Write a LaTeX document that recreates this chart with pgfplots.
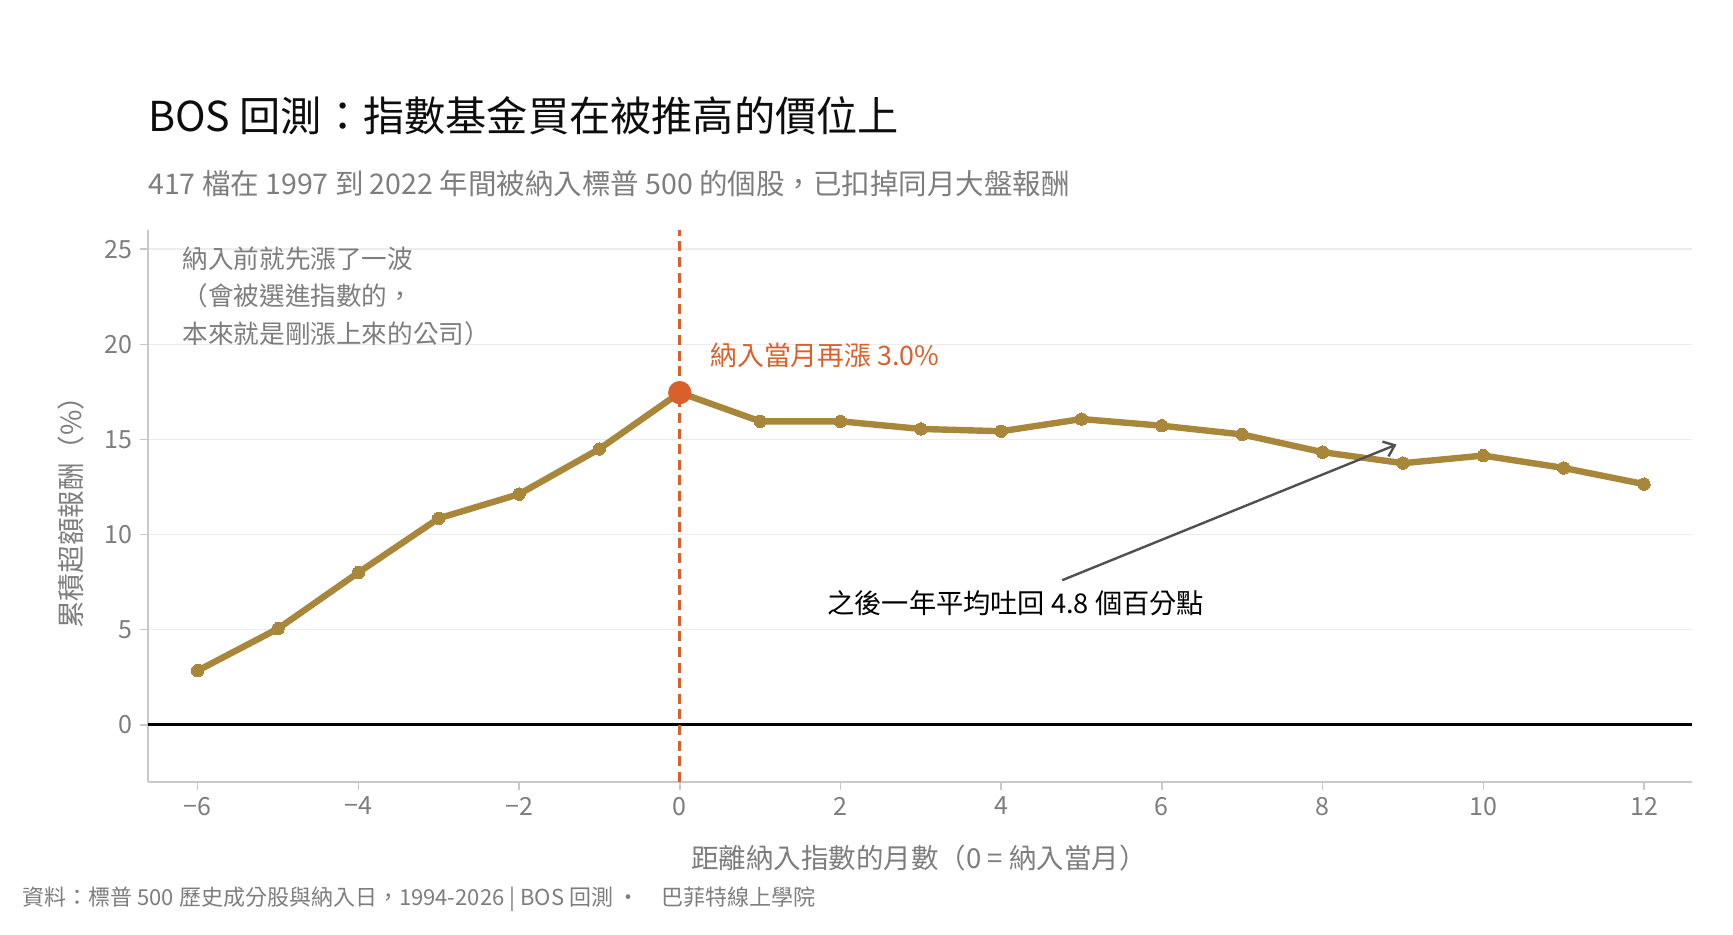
\documentclass[border=0pt]{standalone}
\usepackage{fontspec}
\setmainfont{Noto Sans CJK TC}
\usepackage{pgfplots}
\pgfplotsset{compat=1.18}
\usetikzlibrary{arrows.meta}
\definecolor{gold}{RGB}{168,134,58}
\definecolor{hot}{RGB}{217,95,43}
\definecolor{txtgray}{RGB}{125,125,125}
\definecolor{gridgray}{RGB}{236,236,236}
\definecolor{axgray}{RGB}{200,200,200}
\definecolor{arrgray}{RGB}{80,80,80}
\pgfplotstableread{
m r
-6 2.84
-5 5.05
-4 8.0
-3 10.85
-2 12.12
-1 14.5
0 17.46
1 15.95
2 15.95
3 15.55
4 15.43
5 16.07
6 15.72
7 15.26
8 14.33
9 13.75
10 14.15
11 13.5
12 12.65
}\datatable
\begin{document}
\begin{tikzpicture}
\useasboundingbox (0,0) rectangle (866.5pt,467.5pt);
\begin{axis}[
  at={(73.9pt,76.6pt)}, anchor=south west,
  scale only axis, width=772.2pt, height=275.8pt,
  xmin=-6.62, xmax=12.6, ymin=-3, ymax=26,
  xtick={-6,-4,-2,0,2,4,6,8,10,12},
  xticklabels={−6,−4,−2,0,2,4,6,8,10,12},
  ytick={0,5,10,15,20,25},
  yticklabels={0,5,10,15,20,25},
  axis x line*=bottom, axis y line*=left,
  axis line style={axgray, line width=1pt},
  ymajorgrids, grid style={gridgray, line width=0.8pt},
  tick align=outside, major tick length=4pt,
  tick style={axgray, line width=0.8pt},
  ticklabel style={font=\fontsize{12.5}{14}\selectfont, text=txtgray},
  clip=false,
]
\addplot[black, line width=1.3pt, forget plot] coordinates {(-6.62,0) (12.6,0)};
\addplot[hot, line width=1.3pt, dash pattern=on 5pt off 2.8pt, forget plot] coordinates {(0,-3) (0,26)};
\addplot[gold, line width=3.2pt, mark=*, mark size=3.1pt, mark options={fill=gold, draw=gold, line width=0pt}] table[x=m,y=r] {\datatable};
\addplot[only marks, mark=*, mark size=5.6pt, mark options={fill=hot, draw=hot}] coordinates {(0,17.46)};
\draw[arrgray, line width=1.2pt, -{Straight Barb[length=5pt,width=8pt]}] (axis cs:4.76,7.6) -- (axis cs:8.92,14.73);
\end{axis}
\begin{scope}[x=0.5556pt, y=-0.5556pt, shift={(0,467.5pt)}]
\node[anchor=base west, inner sep=0pt, text=black!95, font=\fontsize{20.6}{24}\selectfont] at (133,118) {BOS 回測：指數基金買在被推高的價位上};
\node[anchor=base west, inner sep=0pt, text=txtgray, font=\fontsize{14.25}{17}\selectfont] at (133,175) {417 檔在 1997 到 2022 年間被納入標普 500 的個股，已扣掉同月大盤報酬};
\node[anchor=west, inner sep=0pt, text=txtgray, font=\fontsize{12.8}{15}\selectfont] at (164,233) {納入前就先漲了一波};
\node[anchor=west, inner sep=0pt, text=txtgray, font=\fontsize{12.8}{15}\selectfont] at (164,266) {（會被選進指數的，};
\node[anchor=west, inner sep=0pt, text=txtgray, font=\fontsize{12.8}{15}\selectfont] at (164,300) {本來就是剛漲上來的公司）};
\node[anchor=west, inner sep=0pt, text=hot, font=\fontsize{13.4}{15}\selectfont] at (639,320) {納入當月再漲 3.0\%};
\node[anchor=center, inner sep=0pt, text=black, font=\fontsize{13.6}{15}\selectfont] at (914,543) {之後一年平均吐回 4.8 個百分點};
\node[anchor=center, inner sep=0pt, text=txtgray, font=\fontsize{13.75}{15}\selectfont] at (827,772) {距離納入指數的月數（0 = 納入當月）};
\node[anchor=center, inner sep=0pt, rotate=90, text=txtgray, font=\fontsize{13.8}{15}\selectfont] at (64,455) {累積超額報酬（\%）};
\node[anchor=base west, inner sep=0pt, text=txtgray, font=\fontsize{11}{13}\selectfont] at (20,815) {資料：標普 500 歷史成分股與納入日，1994-2026 | BOS 回測 ·　巴菲特線上學院};
\end{scope}
\end{tikzpicture}
\end{document}
